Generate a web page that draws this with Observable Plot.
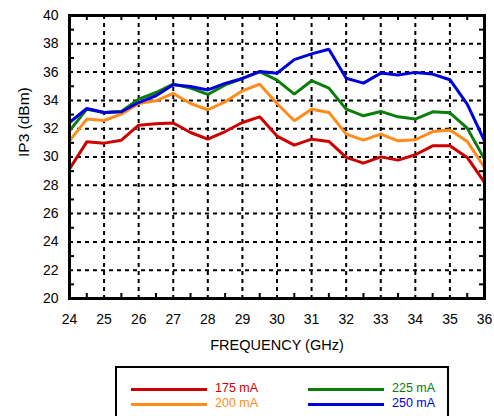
<!DOCTYPE html>
<html>
<head>
<meta charset="utf-8">
<script src="https://cdn.jsdelivr.net/npm/d3@7"></script>
<script src="https://cdn.jsdelivr.net/npm/@observablehq/plot@0.6"></script>
<style>
  html, body { margin: 0; padding: 0; background: #fff; }
  #wrap { position: relative; width: 494px; height: 416px; overflow: hidden; font-family: "Liberation Sans", Arial, Helvetica, sans-serif; }
  #legend { position: absolute; left: 115px; top: 366px; width: 330px; height: 70px; border: 2px solid #000; background: #fff; }
  .item { position: absolute; height: 14px; }
  .item .sw { position: absolute; left: 0; top: 6px; width: 76px; height: 3px; }
  .item .lb { position: absolute; left: 84px; top: -1px; font-size: 12.5px; white-space: nowrap; }
</style>
</head>
<body>
<div id="wrap"></div>
<script>
const freq = [24,24.5,25,25.5,26,26.5,27,27.5,28,28.5,29,29.5,30,30.5,31,31.5,32,32.5,33,33.5,34,34.5,35,35.5,36];
const ma175 = [29.15,31.07,30.98,31.19,32.25,32.35,32.4,31.73,31.26,31.8,32.44,32.84,31.48,30.84,31.26,31.1,29.97,29.57,30.01,29.78,30.16,30.79,30.79,29.97,28.2];
const ma200 = [31.14,32.68,32.58,33.03,33.78,33.97,34.49,33.78,33.34,33.9,34.68,35.15,33.78,32.56,33.38,33.15,31.62,31.19,31.62,31.14,31.22,31.8,31.9,31.1,29.26];
const ma225 = [31.85,33.38,33.15,33.22,34.09,34.56,35.15,34.87,34.42,35.1,35.55,36.04,35.43,34.44,35.39,34.87,33.38,32.91,33.22,32.84,32.68,33.19,33.12,32.04,29.85];
const ma250 = [32.44,33.43,33.15,33.2,33.85,34.33,35.1,34.98,34.74,35.2,35.55,36.04,35.92,36.88,37.29,37.62,35.57,35.22,35.93,35.79,35.98,35.86,35.46,33.74,31.14];
const seriesNames = ["175 mA","200 mA","225 mA","250 mA"];
const seriesColors = ["#cc0000","#ff8c1a","#0a7d0a","#0000dd"];
const xTicks = [24,25,26,27,28,29,30,31,32,33,34,35,36];
const yTicks = [20,22,24,26,28,30,32,34,36,38,40];
const xMinor = [24.5,25.5,26.5,27.5,28.5,29.5,30.5,31.5,32.5,33.5,34.5,35.5];
const yMinor = [21,23,25,27,29,31,33,35,37,39];

const allSeries = [ma175, ma200, ma225, ma250];
const data = allSeries.flatMap((vals, i) => vals.map((v, j) => ({f: freq[j], v, s: seriesNames[i]})));

const W = 494, H = 416, mL = 69, mR = 10, mT = 15, mB = 118;
const plotH = H - mT - mB, plotW = W - mL - mR;
const grid = {stroke: "#000", strokeOpacity: 1, strokeWidth: 2, strokeDasharray: "4,4"};

const chart = Plot.plot({
  width: W, height: H,
  marginLeft: mL, marginRight: mR, marginTop: mT, marginBottom: mB,
  x: {domain: [24, 36]},
  y: {domain: [20, 40]},
  color: {domain: seriesNames, range: seriesColors},
  style: {fontFamily: "'Liberation Sans', Arial, Helvetica, sans-serif", fontSize: "14px", color: "#000", background: "#fff"},
  marks: [
    Plot.gridX(xTicks.slice(1, -1), grid),
    Plot.gridY(yTicks.slice(1, -1), grid),
    Plot.tickX(xMinor, {x: d => d, stroke: "#000", strokeWidth: 2, insetTop: plotH - 5}),
    Plot.tickX(xMinor, {x: d => d, stroke: "#000", strokeWidth: 2, insetBottom: plotH - 5}),
    Plot.tickY(yMinor, {y: d => d, stroke: "#000", strokeWidth: 2, insetRight: plotW - 5}),
    Plot.tickY(yMinor, {y: d => d, stroke: "#000", strokeWidth: 2, insetLeft: plotW - 5}),
    Plot.line(data, {x: "f", y: "v", z: "s", stroke: "s", strokeWidth: 3, strokeLinejoin: "miter"}),
    Plot.frame({stroke: "#000", strokeWidth: 3}),
    Plot.axisX({ticks: xTicks, tickSize: 0, tickPadding: 16, label: null, fontSize: 14}),
    Plot.axisY({ticks: yTicks, tickSize: 0, tickPadding: 11, label: null, fontSize: 14}),
    Plot.text(["FREQUENCY (GHz)"], {frameAnchor: "bottom", dy: 47, fontSize: 14.5, lineAnchor: "middle"}),
    Plot.text(["IP3 (dBm)"], {frameAnchor: "left", dx: -45, rotate: -90, fontSize: 15.5, lineAnchor: "middle"})
  ]
});

const wrap = document.getElementById("wrap");
wrap.appendChild(chart);

const legend = document.createElement("div");
legend.id = "legend";
const pos = [[14, 14], [14, 29], [191, 14], [191, 29]];
seriesNames.forEach((name, i) => {
  const it = document.createElement("div");
  it.className = "item";
  it.style.left = pos[i][0] + "px";
  it.style.top = pos[i][1] + "px";
  const sw = document.createElement("div");
  sw.className = "sw";
  sw.style.background = seriesColors[i];
  const lb = document.createElement("div");
  lb.className = "lb";
  lb.style.color = seriesColors[i];
  lb.textContent = name;
  it.appendChild(sw);
  it.appendChild(lb);
  legend.appendChild(it);
});
wrap.appendChild(legend);
</script>
</body>
</html>
